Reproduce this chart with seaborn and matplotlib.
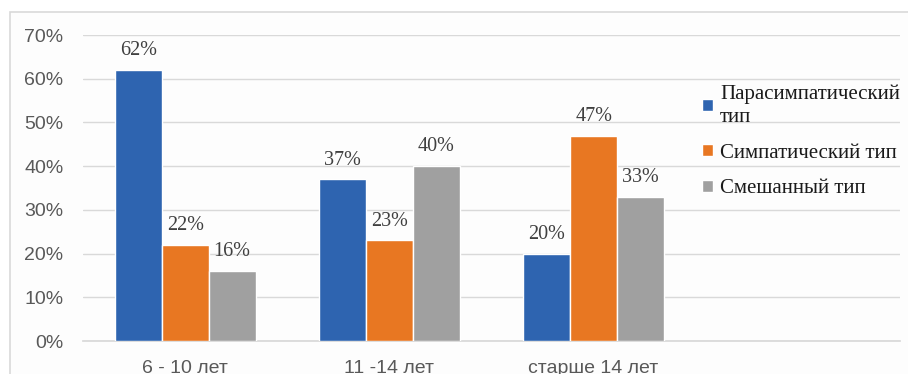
import matplotlib
matplotlib.use("Agg")
import matplotlib.pyplot as plt
import seaborn as sns
import pandas as pd
from matplotlib.patches import Rectangle
from matplotlib.ticker import PercentFormatter

categories = ["6 - 10 лет", "11 -14 лет", "старше 14 лет"]
series_names = ["Парасимпатический\nтип", "Симпатический тип", "Смешанный тип"]
parasymp = [62, 37, 20]
symp = [22, 23, 47]
mixed = [16, 40, 33]
colors = ["#2E64B0", "#E87722", "#A0A0A0"]

rows = []
for name, vals in zip(series_names, [parasymp, symp, mixed]):
    for c, v in zip(categories, vals):
        rows.append({"cat": c, "type": name, "val": v})
df = pd.DataFrame(rows)

sns.set_theme(style="white")
plt.rcParams["font.family"] = ["Liberation Serif", "DejaVu Sans"]

fig = plt.figure(figsize=(9.08, 3.74), dpi=100)
fig.patch.set_facecolor("white")
frame = Rectangle((10 / 908, -0.1), 1.0, 1 - 12 / 374 + 0.1, transform=fig.transFigure,
                  facecolor="#fdfdfd", edgecolor="#d9d9d9", linewidth=1.2, zorder=-10)
fig.patches.append(frame)

ax = fig.add_axes([83 / 908, 1 - 341 / 374, (900 - 83) / 908, (341 - 35) / 374])
ax.set_facecolor("none")

sns.barplot(data=df, x="cat", y="val", hue="type", order=categories,
            hue_order=series_names, palette=colors, width=0.69,
            saturation=1, ax=ax, zorder=3)

ax.set_xlim(-0.5, 3.5)
ax.set_ylim(0, 70)
ax.set_yticks(range(0, 71, 10))
ax.yaxis.set_major_formatter(PercentFormatter(decimals=0))
ax.yaxis.grid(True, color="#d9d9d9", linewidth=1.0, zorder=0)
ax.set_axisbelow(True)
for s in ["top", "right", "left"]:
    ax.spines[s].set_visible(False)
ax.spines["bottom"].set_color("#d9d9d9")
ax.set_xlabel("")
ax.set_ylabel("")
ax.tick_params(axis="y", length=0, pad=14, labelsize=14, labelcolor="#595959")
ax.tick_params(axis="x", length=0, pad=14, labelsize=14, labelcolor="#595959")
for lbl in ax.get_yticklabels() + ax.get_xticklabels():
    lbl.set_fontfamily(["Liberation Sans", "DejaVu Sans"])

for cont in ax.containers:
    ax.bar_label(cont, fmt="%g%%", padding=7, fontsize=14.5, color="#404040")

handles, labels = ax.get_legend_handles_labels()
leg = ax.legend(handles, labels, loc="upper left",
                bbox_to_anchor=(692 / 908, 1 - 74 / 374), bbox_transform=fig.transFigure,
                frameon=False, handlelength=0.5, handleheight=0.5, handletextpad=0.35,
                labelspacing=0.8, borderpad=0, prop={"size": 15})
for t in leg.get_texts():
    t.set_color("#1a1a1a")
    t.set_linespacing(1.3)
    t.stale = True
fig.canvas.draw()

fig.savefig("out.png", dpi=100, facecolor="white")
